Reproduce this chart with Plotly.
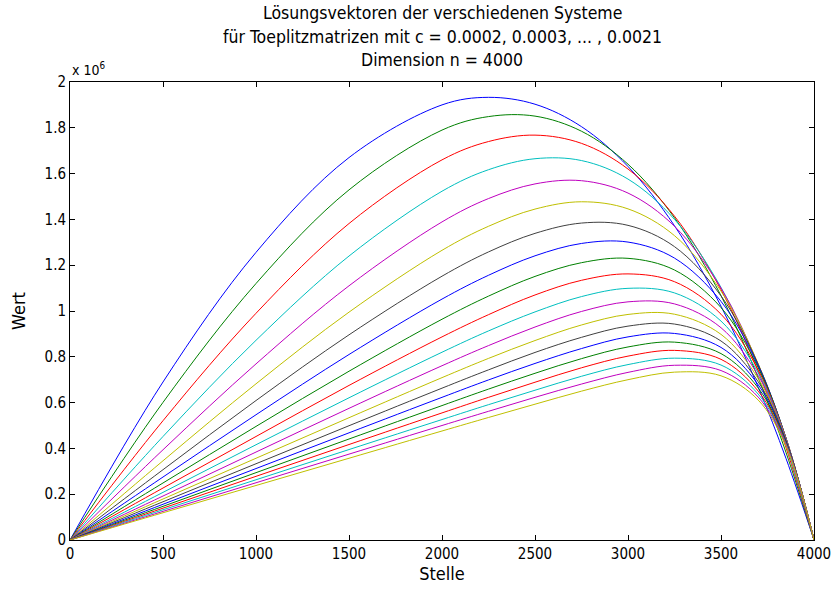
import plotly.graph_objects as go

# Positions (Stelle) at which the solution vectors were read
stelle = [0, 500, 1000, 1500, 2000, 2250, 2500, 2750, 3000, 3250, 3500, 3700, 3850, 4000]

c_labels = ["0.0002", "0.0003", "0.0004", "0.0005", "0.0006", "0.0007", "0.0008",
            "0.0009", "0.0010", "0.0011", "0.0012", "0.0013", "0.0014", "0.0015",
            "0.0016", "0.0017", "0.0018", "0.0019", "0.0020", "0.0021"]

# Values in units of 10^6
w_0002 = [0, 0.690, 1.256, 1.670, 1.900, 1.933, 1.903, 1.805, 1.631, 1.372, 1.021, 0.667, 0.355, 0]
w_0003 = [0, 0.601, 1.120, 1.529, 1.790, 1.849, 1.851, 1.785, 1.641, 1.407, 1.067, 0.708, 0.381, 0]
w_0004 = [0, 0.521, 0.990, 1.382, 1.660, 1.740, 1.768, 1.732, 1.620, 1.414, 1.093, 0.737, 0.402, 0]
w_0005 = [0, 0.452, 0.872, 1.240, 1.523, 1.617, 1.665, 1.657, 1.576, 1.400, 1.103, 0.756, 0.417, 0]
w_0006 = [0, 0.394, 0.769, 1.110, 1.389, 1.491, 1.555, 1.569, 1.515, 1.370, 1.100, 0.766, 0.429, 0]
w_0007 = [0, 0.346, 0.682, 0.995, 1.265, 1.370, 1.445, 1.477, 1.446, 1.329, 1.087, 0.769, 0.436, 0]
w_0008 = [0, 0.307, 0.609, 0.896, 1.152, 1.258, 1.339, 1.384, 1.374, 1.281, 1.066, 0.767, 0.441, 0]
w_0009 = [0, 0.275, 0.547, 0.810, 1.052, 1.156, 1.241, 1.295, 1.301, 1.231, 1.042, 0.761, 0.443, 0]
w_0010 = [0, 0.249, 0.496, 0.737, 0.964, 1.065, 1.151, 1.211, 1.230, 1.179, 1.015, 0.753, 0.444, 0]
w_0011 = [0, 0.227, 0.452, 0.675, 0.887, 0.984, 1.070, 1.134, 1.162, 1.128, 0.986, 0.742, 0.443, 0]
w_0012 = [0, 0.208, 0.416, 0.621, 0.820, 0.913, 0.996, 1.063, 1.099, 1.079, 0.956, 0.730, 0.441, 0]
w_0013 = [0, 0.192, 0.384, 0.575, 0.761, 0.849, 0.930, 0.998, 1.040, 1.031, 0.927, 0.718, 0.439, 0]
w_0014 = [0, 0.179, 0.357, 0.534, 0.709, 0.793, 0.871, 0.939, 0.985, 0.986, 0.898, 0.705, 0.436, 0]
w_0015 = [0, 0.167, 0.333, 0.499, 0.663, 0.743, 0.819, 0.885, 0.934, 0.943, 0.869, 0.691, 0.433, 0]
w_0016 = [0, 0.156, 0.312, 0.468, 0.623, 0.699, 0.771, 0.836, 0.887, 0.902, 0.841, 0.678, 0.430, 0]
w_0017 = [0, 0.147, 0.294, 0.441, 0.587, 0.659, 0.728, 0.792, 0.843, 0.864, 0.814, 0.664, 0.426, 0]
w_0018 = [0, 0.139, 0.278, 0.417, 0.555, 0.623, 0.689, 0.752, 0.803, 0.828, 0.789, 0.650, 0.422, 0]
w_0019 = [0, 0.132, 0.263, 0.395, 0.526, 0.591, 0.654, 0.715, 0.766, 0.794, 0.764, 0.637, 0.418, 0]
w_0020 = [0, 0.125, 0.250, 0.375, 0.500, 0.562, 0.623, 0.681, 0.732, 0.763, 0.740, 0.624, 0.414, 0]
w_0021 = [0, 0.119, 0.238, 0.357, 0.476, 0.535, 0.593, 0.650, 0.700, 0.733, 0.717, 0.611, 0.409, 0]

serien = [w_0002, w_0003, w_0004, w_0005, w_0006, w_0007, w_0008, w_0009, w_0010, w_0011,
          w_0012, w_0013, w_0014, w_0015, w_0016, w_0017, w_0018, w_0019, w_0020, w_0021]

x_ticks = [0, 500, 1000, 1500, 2000, 2500, 3000, 3500, 4000]
y_ticks = [0, 0.2, 0.4, 0.6, 0.8, 1.0, 1.2, 1.4, 1.6, 1.8, 2.0]
y_ticktext = ["0", "0.2", "0.4", "0.6", "0.8", "1", "1.2", "1.4", "1.6", "1.8", "2"]

titel_zeilen = [
    "Lösungsvektoren der verschiedenen Systeme",
    "für Toeplitzmatrizen mit c = 0.0002, 0.0003, ... , 0.0021",
    "Dimension n = 4000",
]

matlab_farben = ["#0000ff", "#008000", "#ff0000", "#00bfbf", "#bf00bf", "#bfbf00", "#404040"]

FONT = "Liberation Sans Narrow, DejaVu Sans Condensed, Arial, sans-serif"

fig = go.Figure()
for i, (lbl, werte) in enumerate(zip(c_labels, serien)):
    fig.add_trace(go.Scatter(
        x=stelle, y=werte, mode="lines", name="c = " + lbl,
        line=dict(color=matlab_farben[i % 7], width=1, shape="spline", smoothing=1.0),
        showlegend=False,
    ))

# plot area: 458 px tall, title line centres at ~13, 37, 60 px from the top
titel_y = [1.151, 1.098, 1.048]
annotations = [dict(
    text=t, xref="paper", yref="paper", x=0.5, y=yy, xanchor="center", yanchor="middle",
    showarrow=False, font=dict(family=FONT, size=17.5, color="black"),
) for t, yy in zip(titel_zeilen, titel_y)]
annotations.append(dict(
    text="x 10<sup>6</sup>", xref="paper", yref="paper", x=0, y=1,
    xanchor="left", yanchor="bottom", yshift=2, showarrow=False,
    font=dict(family=FONT, size=14, color="black"),
))

fig.update_layout(
    width=832, height=590,
    margin=dict(l=70, r=18, t=82, b=50, autoexpand=False),
    paper_bgcolor="white", plot_bgcolor="white",
    font=dict(family=FONT, size=15, color="black"),
    annotations=annotations,
)
fig.update_xaxes(
    range=[0, 4000], tickvals=x_ticks, ticks="inside", ticklen=5, tickcolor="black",
    showline=True, linecolor="black", linewidth=1, mirror="ticks", showgrid=False,
    zeroline=False, automargin=False, title=dict(text="Stelle", standoff=4),
)
fig.update_yaxes(
    range=[0, 2], tickvals=y_ticks, ticktext=y_ticktext, ticks="inside", ticklen=5,
    tickcolor="black", showline=True, linecolor="black", linewidth=1, mirror="ticks",
    showgrid=False, zeroline=False, automargin=False, title=dict(text="Wert", standoff=14),
)

fig.write_html("out.html")
